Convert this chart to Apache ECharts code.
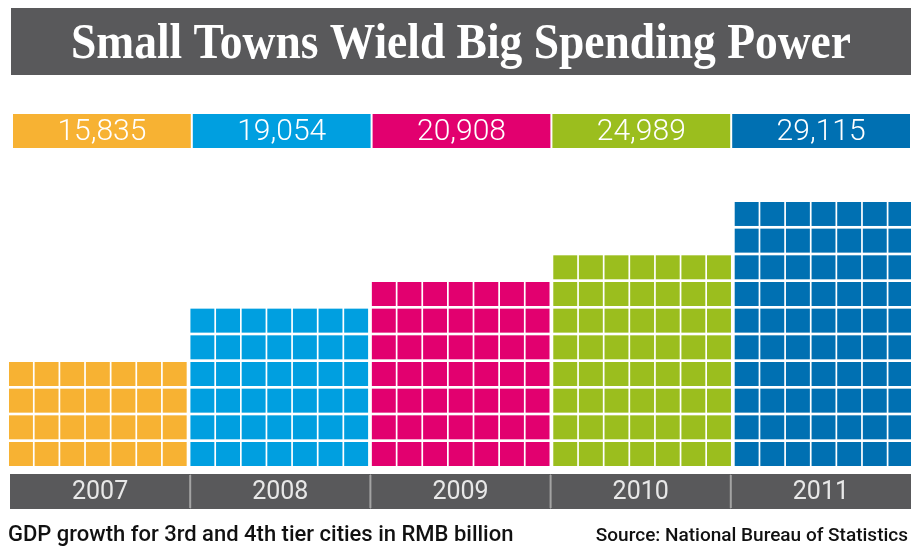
<!DOCTYPE html>
<html>
<head>
<meta charset="utf-8">
<script src="https://cdn.jsdelivr.net/npm/echarts@6/dist/echarts.min.js"></script>
<style>
html, body { margin: 0; padding: 0; background: #fff; }
#chart { width: 911px; height: 546px; }
</style>
</head>
<body>
<div id="chart"></div>
<script>
// data
const years = ['2007', '2008', '2009', '2010', '2011']
const gdp = [15835, 19054, 20908, 24989, 29115]
const blockRows = [4, 6, 7, 8, 10]   // rows of squares per year
const blockCols = 7

const colors = ['#f7b233', '#009fe0', '#e2006f', '#9bbe1e', '#0070b2']
const titleText = 'Small Towns Wield Big Spending Power'
const noteText = 'GDP growth for 3rd and 4th tier cities in RMB billion'
const sourceText = 'Source: National Bureau of Statistics'

const dark = '#59595b'
const sans = 'Roboto, "Noto Sans", sans-serif'
const groupGap = 0.08   // extra space between years, in column units

// one entry per square: [column in its year, row, year index]
const cells = []
years.forEach((y, i) => {
  for (let r = 0; r < blockRows[i]; r++) {
    for (let c = 0; c < blockCols; c++) cells.push([c, r, i])
  }
})

const chart = echarts.init(document.getElementById('chart'))

function valueBox(params, api) {
  const i = api.value(0)
  const c = api.coord([i, 1])
  const s = api.size([1, 1])
  const x0 = c[0] - s[0] / 2
  return {
    type: 'group',
    children: [
      { type: 'rect', shape: { x: x0 + 1, y: c[1], width: s[0] - 2, height: s[1] }, style: { fill: colors[i] } },
      {
        type: 'text',
        style: {
          text: api.value(1).toLocaleString('en-US'),
          x: c[0], y: c[1] + s[1] / 2 + 1,
          fill: '#fff', fontFamily: sans, fontWeight: 300, fontSize: 30,
          align: 'center', verticalAlign: 'middle',
        },
      },
    ],
  }
}

function cell(params, api) {
  const gi = api.value(2)
  const x = gi * (blockCols + groupGap) + api.value(0)
  const r = api.value(1)
  const p0 = api.coord([x, r])
  const p1 = api.coord([x + 1, r + 1])
  const gx = 1.7, gy = 2.67
  return {
    type: 'rect',
    shape: { x: p0[0], y: p1[1] + gy, width: p1[0] - p0[0] - gx, height: p0[1] - p1[1] - gy },
    style: { fill: colors[gi] },
  }
}

function yearBox(params, api) {
  const i = api.value(0)
  const c = api.coord([i, 1])
  const s = api.size([1, 1])
  const x0 = c[0] - s[0] / 2
  const kids = [
    { type: 'rect', shape: { x: x0, y: c[1], width: s[0], height: s[1] }, style: { fill: dark } },
    {
      type: 'text',
      style: {
        text: years[i], x: c[0], y: c[1] + s[1] / 2 + 1,
        fill: '#e8e8e8', fontFamily: sans, fontSize: 25,
        align: 'center', verticalAlign: 'middle',
      },
    },
  ]
  if (i > 0) {
    kids.push({ type: 'line', shape: { x1: x0, y1: c[1] + 1, x2: x0, y2: c[1] + s[1] - 1 }, style: { stroke: '#a3a3a3', lineWidth: 2 } })
  }
  return { type: 'group', children: kids }
}

chart.setOption({
  animation: false,
  grid: [
    { left: 12, right: 0, top: 114, height: 34 },
    { left: 9, right: 0, top: 199.3, bottom: 80 },
    { left: 10, right: 0, top: 474, height: 35 },
  ],
  xAxis: [
    { gridIndex: 0, type: 'category', data: years, show: false },
    { gridIndex: 1, type: 'value', min: 0, max: 35.2, show: false },
    { gridIndex: 2, type: 'category', data: years, show: false },
  ],
  yAxis: [
    { gridIndex: 0, type: 'value', min: 0, max: 1, show: false },
    { gridIndex: 1, type: 'value', min: 0, max: 10, show: false },
    { gridIndex: 2, type: 'value', min: 0, max: 1, show: false },
  ],
  graphic: [
    { type: 'rect', shape: { x: 11, y: 8, width: 900, height: 67 }, style: { fill: dark } },
    {
      type: 'text', x: 461, y: 45, scaleX: 0.91,
      style: {
        text: titleText, fill: '#fff',
        fontFamily: '"Liberation Serif", serif', fontWeight: 'bold', fontSize: 50,
        align: 'center', verticalAlign: 'middle',
      },
    },
    {
      type: 'text', x: 8, y: 535,
      style: { text: noteText, fill: '#111', fontFamily: sans, fontWeight: 500, fontSize: 22, align: 'left', verticalAlign: 'middle' },
    },
    {
      type: 'text', x: 908, y: 536,
      style: { text: sourceText, fill: '#111', fontFamily: sans, fontWeight: 500, fontSize: 19, align: 'right', verticalAlign: 'middle' },
    },
  ],
  series: [
    {
      type: 'custom', xAxisIndex: 0, yAxisIndex: 0,
      renderItem: valueBox,
      data: gdp.map((v, i) => [i, v]),
    },
    {
      type: 'custom', xAxisIndex: 1, yAxisIndex: 1,
      renderItem: cell,
      data: cells,
    },
    {
      type: 'custom', xAxisIndex: 2, yAxisIndex: 2,
      renderItem: yearBox,
      data: years.map((y, i) => [i, 1]),
    },
  ],
})
</script>
</body>
</html>
